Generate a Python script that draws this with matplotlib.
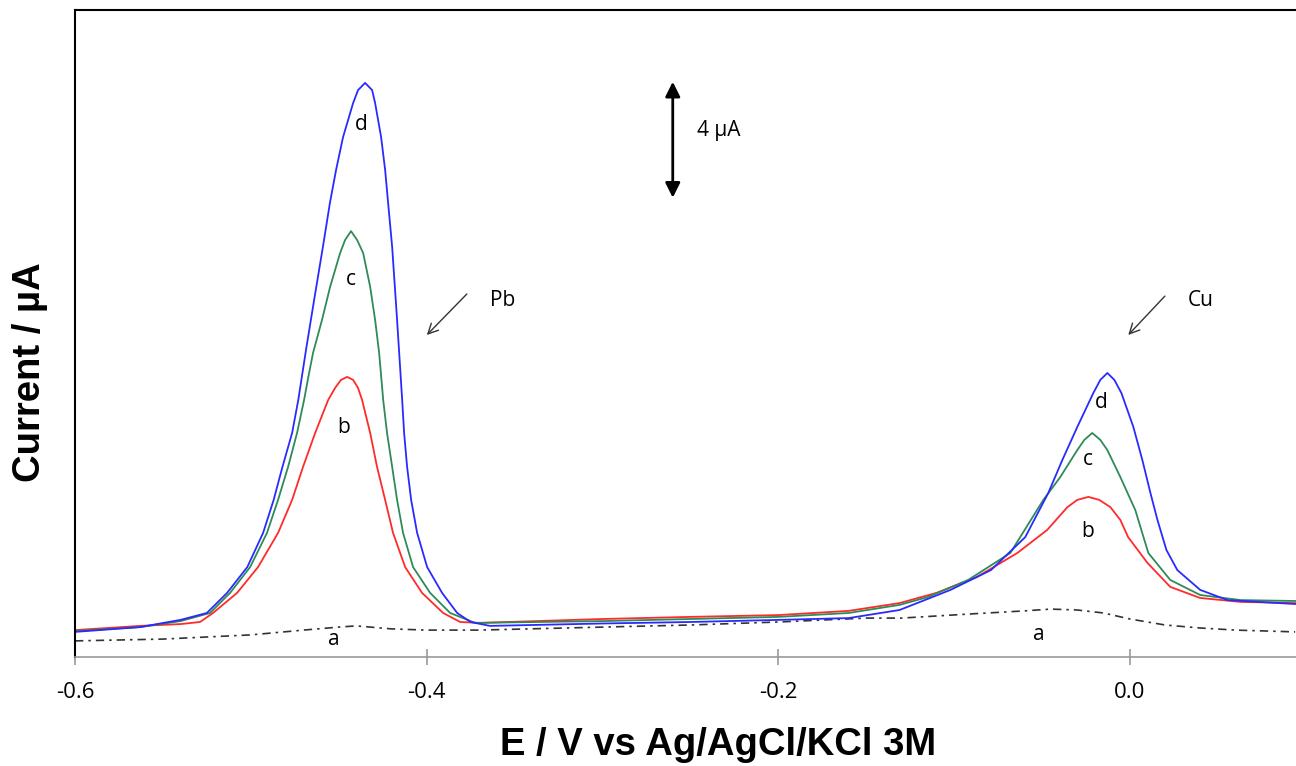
import matplotlib
matplotlib.use('Agg')
import matplotlib.pyplot as plt

# Potenciais (V) e correntes (uA) lidos do voltamograma
# curva d (azul)
d_E = [-0.600, -0.563, -0.540, -0.525, -0.5135, -0.502, -0.493, -0.487, -0.482, -0.4765,
       -0.473, -0.4686, -0.4640, -0.459, -0.455, -0.4515, -0.4475, -0.4418, -0.439, -0.435,
       -0.431, -0.4293, -0.4259, -0.4236, -0.4219, -0.4196, -0.4168, -0.4139, -0.4128, -0.4111,
       -0.4088, -0.4054, -0.3997, -0.3912, -0.3826, -0.375, -0.364, -0.300, -0.250, -0.200,
       -0.160, -0.131, -0.121, -0.102, -0.079, -0.0595, -0.0464, -0.0384, -0.0299, -0.0208,
       -0.0168, -0.0128, -0.0088, -0.0048, 0.002, 0.0071, 0.0117, 0.0157, 0.0208, 0.027,
       0.040, 0.0555, 0.094]
d_I = [0.77, 0.93, 1.17, 1.40, 2.07, 2.93, 4.07, 5.17, 6.27, 7.40,
       8.50, 10.17, 11.83, 13.60, 15.07, 16.17, 17.27, 18.40, 18.83, 19.07,
       18.83, 18.40, 17.27, 16.17, 15.07, 13.60, 11.17, 8.50, 7.40, 6.27,
       5.17, 4.07, 2.93, 2.07, 1.40, 1.10, 0.97, 1.05, 1.10, 1.17,
       1.23, 1.50, 1.73, 2.17, 2.83, 3.93, 5.40, 6.50, 7.60, 8.73,
       9.17, 9.40, 9.17, 8.73, 7.60, 6.50, 5.40, 4.50, 3.50, 2.83,
       2.17, 1.83, 1.70]

# curva c (verde)
c_E = [-0.600, -0.563, -0.540, -0.5232, -0.5118, -0.5004, -0.4908, -0.4845, -0.4788, -0.4737,
       -0.4697, -0.4674, -0.4646, -0.4595, -0.4549, -0.4492, -0.4464, -0.443, -0.4395, -0.4361,
       -0.4321, -0.4293, -0.427, -0.4247, -0.4225, -0.4196, -0.4168, -0.4134, -0.4077, -0.398,
       -0.3866, -0.3724, -0.300, -0.250, -0.200, -0.160, -0.131, -0.115, -0.092, -0.068,
       -0.0492, -0.0396, -0.0299, -0.0259, -0.0214, -0.0168, -0.0128, -0.0054, 0.0031, 0.0105,
       0.023, 0.040, 0.063, 0.094]
c_I = [0.80, 0.93, 1.13, 1.40, 2.07, 2.93, 4.07, 5.17, 6.27, 7.40,
       8.50, 9.23, 10.07, 11.17, 12.27, 13.40, 13.83, 14.13, 13.83, 13.40,
       12.27, 11.17, 10.07, 8.50, 7.40, 6.27, 5.17, 4.07, 2.93, 2.07,
       1.40, 1.07, 1.13, 1.20, 1.27, 1.40, 1.67, 1.93, 2.50, 3.40,
       5.17, 5.93, 6.83, 7.17, 7.40, 7.17, 6.83, 5.93, 4.83, 3.40,
       2.50, 2.00, 1.83, 1.80]

# curva b (vermelha)
b_E = [-0.600, -0.563, -0.540, -0.5289, -0.5215, -0.5078, -0.4959, -0.4845, -0.4765, -0.4703,
       -0.4634, -0.456, -0.4521, -0.4487, -0.4452, -0.4418, -0.439, -0.4367, -0.4321, -0.4282,
       -0.4236, -0.4191, -0.4122, -0.4026, -0.3906, -0.3809, -0.3696, -0.300, -0.250, -0.200,
       -0.160, -0.131, -0.110, -0.087, -0.064, -0.047, -0.0355, -0.0299, -0.0236, -0.0174,
       -0.0111, -0.0054, -0.001, 0.010, 0.023, 0.040, 0.063, 0.094]
b_I = [0.83, 0.97, 1.03, 1.10, 1.40, 2.07, 2.93, 4.07, 5.17, 6.27,
       7.40, 8.50, 8.90, 9.17, 9.27, 9.17, 8.90, 8.50, 7.40, 6.27,
       5.17, 4.07, 2.93, 2.07, 1.40, 1.10, 1.07, 1.20, 1.27, 1.33,
       1.47, 1.73, 2.07, 2.60, 3.40, 4.17, 4.93, 5.17, 5.27, 5.17,
       4.93, 4.50, 3.93, 3.07, 2.27, 1.90, 1.77, 1.73]

# curva a (branco)
a_E = [-0.600, -0.550, -0.500, -0.470, -0.450, -0.440, -0.420, -0.400, -0.370, -0.300,
       -0.250, -0.200, -0.150, -0.130, -0.090, -0.060, -0.045, -0.030, -0.015, 0.000,
       0.020, 0.040, 0.060, 0.094]
a_I = [0.47, 0.53, 0.67, 0.83, 0.93, 0.97, 0.87, 0.83, 0.83, 0.93,
       1.00, 1.10, 1.23, 1.23, 1.37, 1.47, 1.53, 1.50, 1.40, 1.20,
       1.00, 0.90, 0.83, 0.77]

plt.rcParams['font.family'] = ['Open Sans', 'DejaVu Sans']

fig = plt.figure(figsize=(12.96, 7.66), dpi=100)
ax = fig.add_axes([75 / 1296, 1 - 657 / 766, 1 - 75 / 1296, 647 / 766])

ax.plot(a_E, a_I, color='#333333', lw=1.2, linestyle=(0, (5, 3, 1.5, 3)))
ax.plot(b_E, b_I, color='#ff2a2a', lw=1.3)
ax.plot(c_E, c_I, color='#2e8b57', lw=1.3)
ax.plot(d_E, d_I, color='#2a2aff', lw=1.3)

ax.set_xlim(-0.6, 0.0945)
ax.set_ylim(-0.067, 21.5)

# Eixos
ax.spines['right'].set_visible(False)
ax.spines['top'].set_color('black')
ax.spines['left'].set_color('black')
ax.spines['top'].set_linewidth(1.5)
ax.spines['left'].set_linewidth(1.5)
ax.spines['bottom'].set_color('#999999')
ax.spines['bottom'].set_linewidth(1.2)
ax.set_yticks([])
ax.set_xticks([-0.6, -0.4, -0.2, 0.0])
ax.set_xticklabels(['-0.6', '-0.4', '-0.2', '0.0'])
ax.tick_params(axis='x', direction='inout', length=12, width=1.2, color='#999999',
               labelsize=16, pad=12)

# Rotulos das curvas
fs = 15
ax.text(-0.437, 17.67, 'd', ha='center', va='center', fontsize=fs)
ax.text(-0.443, 12.5, 'c', ha='center', va='center', fontsize=fs)
ax.text(-0.447, 7.57, 'b', ha='center', va='center', fontsize=fs)
ax.text(-0.453, 0.5, 'a', ha='center', va='center', fontsize=fs)
ax.text(-0.016, 8.43, 'd', ha='center', va='center', fontsize=fs)
ax.text(-0.024, 6.5, 'c', ha='center', va='center', fontsize=fs)
ax.text(-0.024, 4.13, 'b', ha='center', va='center', fontsize=fs)
ax.text(-0.052, 0.67, 'a', ha='center', va='center', fontsize=fs)

ax.text(-0.364, 11.83, 'Pb', ha='left', va='center', fontsize=fs)
ax.text(0.0327, 11.83, 'Cu', ha='left', va='center', fontsize=fs)
ax.annotate('', xy=(-0.401, 10.6), xytext=(-0.376, 12.1),
            arrowprops=dict(arrowstyle='->', color='#333333', lw=1.0, mutation_scale=18))
ax.annotate('', xy=(-0.002, 10.6), xytext=(0.021, 12.03),
            arrowprops=dict(arrowstyle='->', color='#333333', lw=1.0, mutation_scale=18))

# Barra de escala 4 uA
ax.annotate('', xy=(-0.260, 19.2), xytext=(-0.260, 15.15),
            arrowprops=dict(arrowstyle='<|-|>', color='black', lw=2, mutation_scale=22))
ax.text(-0.246, 17.47, '4 µA', ha='left', va='center', fontsize=fs)

fig.text(30 / 1296, 1 - 372 / 766, 'Current / µA', rotation=90, ha='center', va='center',
         fontsize=27.5, fontweight='bold', family='Liberation Sans')
fig.text(718 / 1296, 1 - 745 / 766, 'E / V vs Ag/AgCl/KCl 3M', ha='center', va='center',
         fontsize=27.5, fontweight='bold', family='Liberation Sans')

fig.savefig('out.png', dpi=100)
